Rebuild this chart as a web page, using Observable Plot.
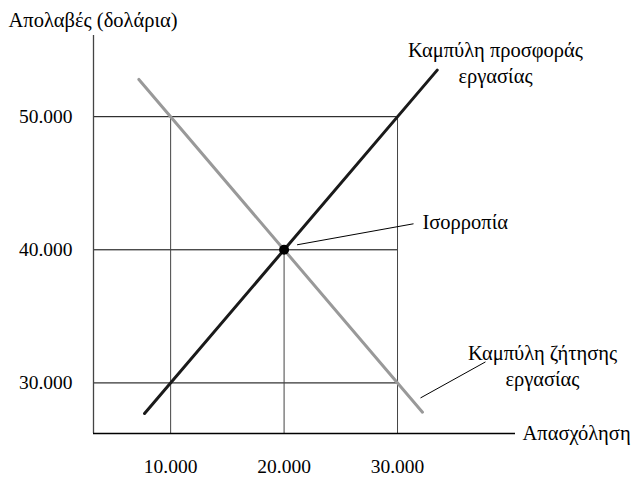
<!DOCTYPE html>
<html><head><meta charset="utf-8">
<script src="https://cdn.jsdelivr.net/npm/d3@7"></script>
<script src="https://cdn.jsdelivr.net/npm/@observablehq/plot@0.6"></script>
<style>body{margin:0;background:#fff}svg{display:block}</style>
</head><body><div id="chart"></div>
<script>
const xTicks = [10000, 20000, 30000];
const xTickLabels = ["10.000", "20.000", "30.000"];
const yTicks = [30000, 40000, 50000];
const yTickLabels = ["30.000", "40.000", "50.000"];
const gridTop = [50000, 40000, 50000]; // top of each vertical guide
const supplyX = [7700, 33500];
const supplyY = [27700, 53500];
const demandX = [7200, 32200];
const demandY = [52800, 27800];
const eqX = [20000], eqY = [40000];
const xDomain = [3200, 40400];
const yDomain = [26200, 56100];
const yTitle = "Απολαβές (δολάρια)";
const xTitle = "Απασχόληση";
const eqLabel = {text: "Ισορροπία", x: 32200, y: 42030};
const curveLabels = [
  {text: "Καμπύλη ζήτησης\nεργασίας", x: 42775, y: 31350},
  {text: "Καμπύλη προσφοράς\nεργασίας", x: 38634, y: 54150}
];
const leaders = [
  {x1: 21145, y1: 40376, x2: 31410, y2: 41955},
  {x1: 32026, y1: 28872, x2: 37753, y2: 31579}
];

const supply = supplyX.map((x, i) => ({x, y: supplyY[i]}));
const demand = demandX.map((x, i) => ({x, y: demandY[i]}));
const font = "'Liberation Serif', 'Times New Roman', serif";
const N = {fontSize: 19.5, fill: "#000", fontFamily: font};
const G = {fontSize: 20.5, fill: "#000", fontFamily: font};

const chart = Plot.plot({
  width: 633, height: 489,
  marginLeft: 93, marginRight: 118, marginTop: 35, marginBottom: 56,
  style: {fontFamily: font, fontSize: "20px", color: "#000", background: "#fff", overflow: "visible"},
  x: {domain: xDomain, axis: null},
  y: {domain: yDomain, axis: null},
  marks: [
    Plot.ruleY(yTicks, {x1: xDomain[0], x2: 30000, stroke: "#000", strokeWidth: 1}),
    Plot.ruleX(xTicks, {y1: yDomain[0], y2: (d, i) => gridTop[i], stroke: "#444", strokeWidth: 1}),
    Plot.ruleX([xDomain[0]], {stroke: "#444", strokeWidth: 1.3}),
    Plot.ruleY([yDomain[0]], {stroke: "#000", strokeWidth: 1.3}),
    Plot.line(demand, {x: "x", y: "y", stroke: "#999", strokeWidth: 3}),
    Plot.line(supply, {x: "x", y: "y", stroke: "#1a1a1a", strokeWidth: 3}),
    Plot.dot({length: 1}, {x: eqX, y: eqY, r: 5, fill: "#000"}),
    Plot.link(leaders, {x1: "x1", y1: "y1", x2: "x2", y2: "y2", stroke: "#000", strokeWidth: 1}),
    Plot.text(xTicks, {x: d => d, y: yDomain[0], text: (d, i) => xTickLabels[i], dy: 33, ...N}),
    Plot.text(yTicks, {y: d => d, x: xDomain[0], text: (d, i) => yTickLabels[i], dx: -21, textAnchor: "end", ...N}),
    Plot.text([eqLabel], {x: "x", y: "y", text: "text", textAnchor: "start", ...G}),
    Plot.text(curveLabels, {x: "x", y: "y", text: "text", textAnchor: "middle", lineHeight: 1.28, ...G}),
    Plot.text([xTitle], {x: xDomain[1], y: yDomain[0], text: d => d, textAnchor: "start", dx: 7, ...G}),
    Plot.text([yTitle], {frameAnchor: "top-left", text: d => d, dx: -85, dy: -23, textAnchor: "start", ...G})
  ]
});
document.getElementById("chart").appendChild(chart);
</script></body></html>
